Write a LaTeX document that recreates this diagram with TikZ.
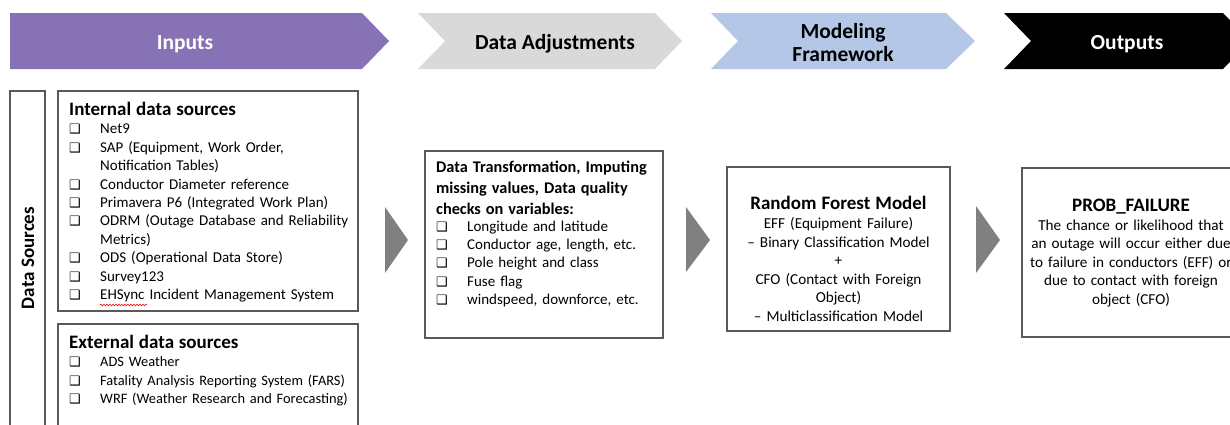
\documentclass[tikz,border=0pt]{standalone}
\usepackage{fontspec}
\setmainfont{Carlito}
\newfontfamily\symfont{DejaVu Sans}
\usetikzlibrary{decorations.pathmorphing}
\definecolor{inpurple}{RGB}{134,114,180}
\definecolor{adjgray}{RGB}{217,217,217}
\definecolor{modblue}{RGB}{180,199,231}
\definecolor{boxline}{RGB}{89,89,89}
\definecolor{arrowgray}{RGB}{128,128,128}
% hollow square bullet and list line helpers
\newcommand{\bx}{{\symfont\fontsize{13}{13}\selectfont ❑}}
\newcommand{\li}[1]{\par\noindent\makebox[31pt][l]{\bx}#1}
\newcommand{\lc}[1]{\par\noindent\hspace*{31pt}#1}
\tikzset{
  x=1pt, y=-1pt,
  frame/.style={draw=boxline, line width=1.3pt},
  chevtext/.style={font=\bfseries\fontsize{21.5}{23}\selectfont, align=center},
  listtext/.style={anchor=north west, inner sep=0pt, text width=#1, align=left,
    font=\fontsize{15}{18.4}\selectfont},
  centtext/.style={inner sep=0pt, text width=#1, align=center,
    font=\fontsize{15.2}{18.6}\selectfont},
  flowtri/.style={fill=arrowgray},
}
\begin{document}
\begin{tikzpicture}
\useasboundingbox (0,0) rectangle (1230,424);
\clip (0,0) rectangle (1230,424);
\fill[white] (0,0) rectangle (1230,424);

% stage banners
\fill[inpurple] (10,13) -- (362,13) -- (389,41) -- (362,69) -- (10,69) -- cycle;
\fill[adjgray] (418,13) -- (655,13) -- (682,41) -- (655,69) -- (418,69) -- (445,41) -- cycle;
\fill[modblue] (711,13) -- (946,13) -- (975,41) -- (946,69) -- (711,69) -- (738,41) -- cycle;
\fill[black] (1004,13) -- (1223,13) -- (1250,41) -- (1223,69) -- (1004,69) -- (1031,41) -- cycle;
\node[chevtext, text=white] (inputs) at (185,44) {Inputs};
\node[chevtext] (adjust) at (555,44) {Data Adjustments};
\node[chevtext] (model) at (843,43) {Modeling\\Framework};
\node[chevtext, text=white] (outputs) at (1127,44) {Outputs};

% data sources column
\draw[frame] (10,91) rectangle (45,440);
\node[rotate=90, font=\bfseries\fontsize{19}{22}\selectfont] (datasrc) at (28,258) {Data Sources};

% internal sources
\draw[frame] (58,91) rectangle (358,311);
\node[listtext=330pt] (internal) at (69,102) {%
  {\bfseries\fontsize{19}{21}\selectfont Internal data sources}
  \li{Net9}
  \li{SAP (Equipment, Work Order,}
  \lc{Notification Tables)}
  \li{Conductor Diameter reference}
  \li{Primavera P6 (Integrated Work Plan)}
  \li{ODRM (Outage Database and Reliability}
  \lc{Metrics)}
  \li{ODS (Operational Data Store)}
  \li{Survey123}
  \li{EHSync Incident Management System}};
\draw[red, line width=0.6pt, decorate, decoration={snake, amplitude=0.8pt, segment length=3pt}]
  (100,305) -- (147,305);

% external sources
\draw[frame] (58,324) rectangle (358,440);
\node[listtext=330pt, font=\fontsize{14.4}{18.4}\selectfont] (external) at (69,335) {%
  {\bfseries\fontsize{19}{21}\selectfont External data sources}
  \li{ADS Weather}
  \li{Fatality Analysis Reporting System (FARS)}
  \li{WRF (Weather Research and Forecasting)}};

% data adjustments
\draw[frame] (425,151) rectangle (663,338);
\node[listtext=260pt] (adjbox) at (436,161) {%
  {\bfseries\fontsize{16.3}{21}\selectfont Data Transformation, Imputing\\
  missing values, Data quality\\ checks on variables:\par}
  \vspace{-2pt}
  \li{Longitude and latitude}
  \li{Conductor age, length, etc.}
  \li{Pole height and class}
  \li{Fuse flag}
  \li{windspeed, downforce, etc.}};

% modeling framework
\draw[frame] (727,167) rectangle (950,331);
\node[centtext=220pt] (rf) at (838.5,259) {%
  {\bfseries\fontsize{19}{20}\selectfont Random Forest Model}\\
  EFF (Equipment Failure)\\
  -- Binary Classification Model\\
  +\\
  CFO (Contact with Foreign\\
  Object)\\
  -- Multiclassification Model};

% output
\draw[frame] (1022,168) rectangle (1260,337);
\node[centtext=220pt] (prob) at (1131,253) {%
  {\bfseries\fontsize{19}{20}\selectfont PROB\_FAILURE}\\
  The chance or likelihood that\\
  an outage will occur either due\\
  to failure in conductors (EFF) or\\
  due to contact with foreign\\
  object (CFO)};

% flow arrows between stages
\fill[flowtri] (385,207) -- (408,240) -- (385,273) -- cycle;
\fill[flowtri] (686,207) -- (710,240) -- (686,272) -- cycle;
\fill[flowtri] (976,206) -- (1000,240) -- (976,273) -- cycle;
\end{tikzpicture}
\end{document}
